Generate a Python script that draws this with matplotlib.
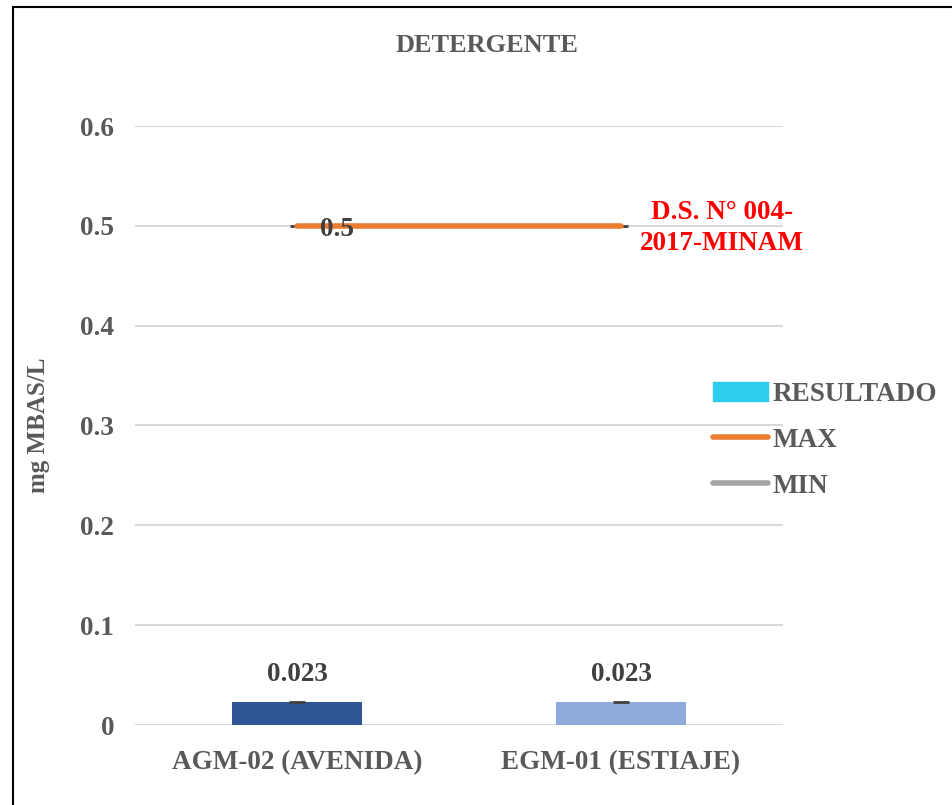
import matplotlib.pyplot as plt
from matplotlib.patches import Rectangle, Patch
from matplotlib.lines import Line2D

# datos del parametro detergente
estaciones = ["AGM-02 (AVENIDA)", "EGM-01 (ESTIAJE)"]
resultado = [0.023, 0.023]
maximo = [0.5, 0.5]
norma = "D.S. N° 004-\n2017-MINAM"

colores_barras = ["#2F5597", "#8FAADC"]
gris = "#595959"
plt.rcParams["font.family"] = ["Liberation Serif", "DejaVu Serif"]
plt.rcParams["font.weight"] = "bold"

fig = plt.figure(figsize=(9.52, 8.05), dpi=100)
ax = fig.add_axes([135 / 952, 1 - 725 / 805, 648 / 952, 599 / 805])

x = list(range(len(estaciones)))
ax.bar(x, resultado, width=0.4, color=colores_barras, zorder=2)
# marcas pequenas sobre las barras
ax.plot(x, resultado, ls="none", marker="_", ms=12, mew=2, color="#404040", zorder=3)
for xi, v in zip(x, resultado):
    ax.text(xi, v + 0.015, f"{v:.3f}", ha="center", va="bottom", fontsize=19.5,
            fontweight="bold", color="#404040")

# limite maximo
ax.plot(x, maximo, ls="none", marker="_", ms=10, mew=2, color="#404040", zorder=3)
ax.plot(x, maximo, color="#ED7D31", lw=4, solid_capstyle="round", zorder=4)
ax.text(x[0] + 0.07, maximo[0] - 0.004, f"{maximo[0]}", ha="left", va="center",
        fontsize=19.5, fontweight="bold", color="#404040", zorder=5)

ax.set_xlim(-0.5, 1.5)
ax.set_ylim(0, 0.6)
ax.set_yticks([0, 0.1, 0.2, 0.3, 0.4, 0.5, 0.6])
ax.set_yticklabels(["0", "0.1", "0.2", "0.3", "0.4", "0.5", "0.6"])
ax.set_xticks(x)
ax.set_xticklabels(estaciones)
ax.tick_params(length=0, labelsize=19.5, colors=gris)
ax.tick_params(axis="y", pad=15)
ax.tick_params(axis="x", pad=18)
for lab in ax.get_xticklabels() + ax.get_yticklabels():
    lab.set_fontweight("bold")
ax.grid(axis="y", color="#D9D9D9", lw=1.5, zorder=0)
for s in ax.spines.values():
    s.set_visible(False)
ax.axhline(0, color="#D9D9D9", lw=1.5, zorder=1)
ax.set_ylabel("mg MBAS/L", fontsize=18, fontweight="bold", color=gris, labelpad=22)

fig.text(487 / 952, 1 - 45 / 805, "DETERGENTE", ha="center", va="center",
         fontsize=19, fontweight="bold", color=gris)
fig.text(722 / 952, 1 - 228 / 805, norma, ha="center", va="center", fontsize=19.5,
         fontweight="bold", color="red", linespacing=1.35)

handles = [Patch(color="#2ECDEB"),
           Line2D([], [], color="#ED7D31", lw=4, solid_capstyle="round"),
           Line2D([], [], color="#A5A5A5", lw=4, solid_capstyle="round")]
fig.legend(handles, ["RESULTADO", "MAX", "MIN"], loc="upper left",
           bbox_to_anchor=(689 / 952, 1 - 358 / 805), frameon=False, fontsize=19.5,
           handlelength=2.0, handletextpad=0.2, labelspacing=0.76, labelcolor=gris)

# marco del grafico
fig.add_artist(Rectangle((13 / 952, -0.1), 1.2, 1 - 7 / 805 + 0.1, transform=fig.transFigure,
                         fill=False, ec="black", lw=1.5))

fig.savefig("out.png", dpi=100)
